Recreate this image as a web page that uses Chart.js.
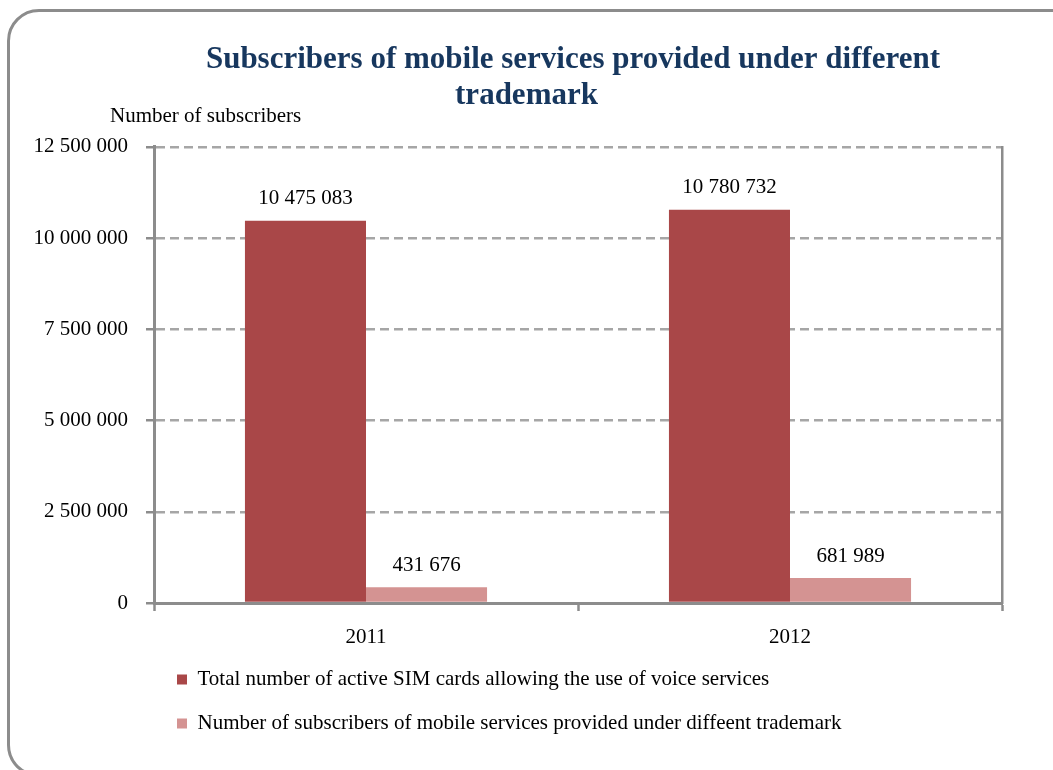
<!DOCTYPE html>
<html>
<head>
<meta charset="utf-8">
<script src="https://cdn.jsdelivr.net/npm/chart.js@4"></script>
<style>
  html, body { margin: 0; padding: 0; background: #fff; overflow: hidden; }
  .frame {
    position: absolute; left: 7px; top: 9px; width: 1080px; height: 768px;
    border: 3px solid #8c8c8c; border-radius: 32px; box-sizing: border-box;
  }
  .wrap { position: absolute; left: 0; top: 0; width: 1053px; height: 770px; }
</style>
</head>
<body>
<div class="frame"></div>
<div class="wrap"><canvas id="barChart" width="1053" height="770"></canvas></div>
<script>
// data
const years = ['2011', '2012'];
const simCards = [10475083, 10780732];
const otherTrademark = [431676, 681989];
const simCardsLabel = 'Total number of active SIM cards allowing the use of voice services';
const otherTrademarkLabel = 'Number of subscribers of mobile services provided under diffeent trademark';
const yMax = 12500000;
const yStep = 2500000;
const yAxisTitle = 'Number of subscribers';

// utils
function spaced(v) {
  return String(v).replace(/\B(?=(\d{3})+(?!\d))/g, ' ');
}
const serif = "'Liberation Serif', 'Times New Roman', serif";
const axisGray = '#8c8c8c';
const textSize = 21;

// value above every bar
const barValues = {
  id: 'barValues',
  afterDatasetsDraw(chart) {
    const ctx = chart.ctx;
    ctx.save();
    ctx.font = textSize + 'px ' + serif;
    ctx.fillStyle = '#000';
    ctx.textAlign = 'center';
    ctx.textBaseline = 'middle';
    chart.data.datasets.forEach((ds, i) => {
      chart.getDatasetMeta(i).data.forEach((bar, j) => {
        ctx.fillText(spaced(ds.data[j]), bar.x, bar.y - 22);
      });
    });
    ctx.restore();
  }
};

// horizontal axis caption above the y scale
const axisCaption = {
  id: 'axisCaption',
  afterDraw(chart) {
    const ctx = chart.ctx;
    const area = chart.chartArea;
    ctx.save();
    ctx.font = textSize + 'px ' + serif;
    ctx.fillStyle = '#000';
    ctx.textAlign = 'left';
    ctx.textBaseline = 'middle';
    ctx.fillText(yAxisTitle, area.left - 44, area.top - 30);
    ctx.restore();
  }
};

new Chart(document.getElementById('barChart'), {
  type: 'bar',
  data: {
    labels: years,
    datasets: [
      { label: simCardsLabel, data: simCards, backgroundColor: '#a94748', yAxisID: 'y' },
      { label: otherTrademarkLabel, data: otherTrademark, backgroundColor: '#d49392', yAxisID: 'y' }
    ]
  },
  options: {
    responsive: false,
    animation: false,
    categoryPercentage: 0.571,
    barPercentage: 1,
    layout: { padding: { top: 0, left: 0, right: 0, bottom: 26 } },
    plugins: {
      title: {
        display: true,
        fullSize: true,
        text: ['            Subscribers of mobile services provided under different', 'trademark'],
        color: '#17375e',
        font: { family: serif, size: 31, weight: 'bold', lineHeight: 1.16 },
        padding: { top: 42, bottom: 33 }
      },
      legend: {
        position: 'bottom',
        align: 'start',
        fullSize: false,
        labels: {
          color: '#000',
          font: { family: serif, size: textSize },
          boxWidth: 10,
          boxHeight: 10,
          padding: 23
        }
      },
      tooltip: { enabled: false }
    },
    scales: {
      x: {
        afterFit: s => { s.height = 43; },
        grid: { drawOnChartArea: false, tickLength: 8, tickColor: axisGray, tickWidth: 2.5 },
        border: { color: axisGray, width: 3 },
        ticks: { color: '#000', font: { family: serif, size: textSize }, padding: 14 }
      },
      y: {
        min: 0,
        max: yMax,
        afterFit: s => { s.width = 154; },
        ticks: {
          stepSize: yStep,
          color: '#000',
          font: { family: serif, size: textSize },
          padding: 18,
          callback: v => spaced(v)
        },
        grid: { color: '#a6a6a6', lineWidth: 2.5, tickLength: 8, tickColor: axisGray, tickWidth: 2.5 },
        border: { color: axisGray, width: 3, dash: [9, 5] }
      },
      y2: {
        position: 'right',
        min: 0,
        max: yMax,
        afterFit: s => { s.width = 51; },
        ticks: { display: false },
        grid: { display: false, drawOnChartArea: false, drawTicks: false },
        border: { color: axisGray, width: 2.5 }
      }
    }
  },
  plugins: [barValues, axisCaption]
});
</script>
</body>
</html>
